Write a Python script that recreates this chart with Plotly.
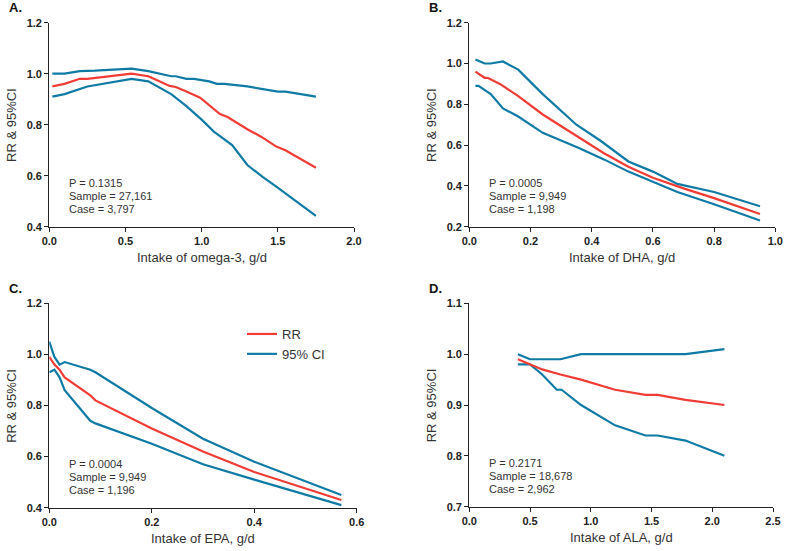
import plotly.graph_objects as go

# ---------- data ----------
# A. omega-3
a_x_up = [0.02, 0.10, 0.20, 0.30, 0.54, 0.65, 0.80, 0.83, 0.90, 0.95, 1.05, 1.10, 1.15, 1.30, 1.50, 1.55, 1.75]
a_up = [1.00, 1.00, 1.01, 1.012, 1.02, 1.01, 0.99, 0.99, 0.98, 0.98, 0.97, 0.96, 0.96, 0.95, 0.93, 0.93, 0.91]
a_x_rr = [0.02, 0.10, 0.20, 0.25, 0.54, 0.65, 0.79, 0.83, 0.90, 0.99, 1.12, 1.17, 1.30, 1.39, 1.49, 1.55, 1.75]
a_rr = [0.95, 0.96, 0.98, 0.98, 1.00, 0.99, 0.952, 0.948, 0.93, 0.906, 0.842, 0.83, 0.782, 0.753, 0.714, 0.70, 0.631]
a_x_lo = [0.02, 0.10, 0.25, 0.54, 0.65, 0.80, 0.90, 0.93, 1.00, 1.08, 1.15, 1.20, 1.30, 1.40, 1.49, 1.55, 1.75]
a_lo = [0.91, 0.92, 0.95, 0.98, 0.97, 0.92, 0.873, 0.857, 0.82, 0.773, 0.74, 0.72, 0.642, 0.595, 0.557, 0.53, 0.442]

# B. DHA
b_x_up = [0.02, 0.05, 0.07, 0.10, 0.11, 0.16, 0.24, 0.35, 0.43, 0.52, 0.60, 0.68, 0.80, 0.95]
b_up = [1.02, 1.00, 1.00, 1.01, 1.01, 0.97, 0.85, 0.70, 0.62, 0.52, 0.47, 0.41, 0.37, 0.30]
b_x_rr = [0.02, 0.05, 0.06, 0.10, 0.16, 0.24, 0.36, 0.44, 0.52, 0.60, 0.70, 0.80, 0.95]
b_rr = [0.96, 0.93, 0.93, 0.90, 0.84, 0.75, 0.636, 0.56, 0.494, 0.44, 0.388, 0.34, 0.262]
b_x_lo = [0.02, 0.03, 0.07, 0.11, 0.16, 0.24, 0.36, 0.44, 0.52, 0.60, 0.68, 0.80, 0.95]
b_lo = [0.89, 0.89, 0.85, 0.78, 0.74, 0.66, 0.585, 0.53, 0.47, 0.42, 0.37, 0.31, 0.23]

# C. EPA
c_x = [0.0, 0.01, 0.02, 0.03, 0.08, 0.09, 0.20, 0.30, 0.40, 0.57]
c_up = [1.05, 0.99, 0.96, 0.97, 0.94, 0.93, 0.79, 0.67, 0.58, 0.45]
c_rr = [0.99, 0.96, 0.94, 0.91, 0.84, 0.82, 0.71, 0.62, 0.54, 0.43]
c_lo = [0.93, 0.94, 0.91, 0.86, 0.74, 0.73, 0.65, 0.57, 0.51, 0.41]

# D. ALA
d_x_up = [0.40, 0.50, 0.75, 0.92, 1.78, 2.10]
d_up = [1.00, 0.99, 0.99, 1.00, 1.00, 1.01]
d_x_rr = [0.40, 0.50, 0.60, 0.75, 0.92, 1.20, 1.45, 1.55, 1.78, 2.10]
d_rr = [0.99, 0.98, 0.97, 0.96, 0.95, 0.93, 0.92, 0.92, 0.91, 0.90]
d_x_lo = [0.40, 0.50, 0.60, 0.72, 0.76, 0.92, 1.20, 1.45, 1.55, 1.78, 2.10]
d_lo = [0.98, 0.98, 0.96, 0.93, 0.93, 0.90, 0.86, 0.84, 0.84, 0.83, 0.80]

panel_labels = ["A.", "B.", "C.", "D."]
x_titles = ["Intake of omega-3, g/d", "Intake of DHA, g/d", "Intake of EPA, g/d", "Intake of ALA, g/d"]
y_title = "RR & 95%CI"
stats = [
    ["P = 0.1315", "Sample = 27,161", "Case = 3,797"],
    ["P = 0.0005", "Sample = 9,949", "Case = 1,198"],
    ["P = 0.0004", "Sample = 9,949", "Case = 1,196"],
    ["P = 0.2171", "Sample = 18,678", "Case = 2,962"],
]
x_ranges = [[0, 2], [0, 1], [0, 0.6], [0, 2.5]]
x_dticks = [0.5, 0.2, 0.2, 0.5]
y_ranges = [[0.4, 1.2], [0.2, 1.2], [0.4, 1.2], [0.7, 1.1]]
y_dticks = [0.2, 0.2, 0.2, 0.1]

RED = "#f03c35"
BLUE = "#0f7ba5"
W, H = 785, 551
FONT = "Liberation Sans, Arial, sans-serif"

# panel pixel boxes: (left, right, top, bottom)
boxes = [
    (49.3, 354.0, 22.7, 226.7),
    (469.3, 775.3, 22.7, 226.7),
    (49.3, 356.7, 303.3, 507.7),
    (469.3, 773.0, 303.3, 506.7),
]

fig = go.Figure()

series = [
    ((a_x_up, a_up), (a_x_rr, a_rr), (a_x_lo, a_lo)),
    ((b_x_up, b_up), (b_x_rr, b_rr), (b_x_lo, b_lo)),
    ((c_x, c_up), (c_x, c_rr), (c_x, c_lo)),
    ((d_x_up, d_up), (d_x_rr, d_rr), (d_x_lo, d_lo)),
]

layout = {}
annotations = []
for i in range(4):
    xa = "x" if i == 0 else f"x{i+1}"
    ya = "y" if i == 0 else f"y{i+1}"
    up, rr, lo = series[i]
    fig.add_trace(go.Scatter(x=up[0], y=up[1], mode="lines", line=dict(color=BLUE, width=2.2),
                             xaxis=xa, yaxis=ya, name="95% CI", legendgroup="ci",
                             showlegend=(i == 2), legendrank=2))
    fig.add_trace(go.Scatter(x=lo[0], y=lo[1], mode="lines", line=dict(color=BLUE, width=2.2),
                             xaxis=xa, yaxis=ya, name="95% CI", legendgroup="ci", showlegend=False))
    fig.add_trace(go.Scatter(x=rr[0], y=rr[1], mode="lines", line=dict(color=RED, width=2.2),
                             xaxis=xa, yaxis=ya, name="RR", legendgroup="rr",
                             showlegend=(i == 2), legendrank=1))
    l, r, t, b = boxes[i]
    ax_common = dict(showgrid=False, zeroline=False, showline=True, linecolor="#222222", linewidth=1.3,
                     ticks="outside", ticklen=4, tickwidth=1.3, tickcolor="#222222", automargin=False,
                     tickfont=dict(family=FONT, size=11, color="#222222", weight="bold"))
    xkey = "xaxis" if i == 0 else f"xaxis{i+1}"
    ykey = "yaxis" if i == 0 else f"yaxis{i+1}"
    layout[xkey] = dict(ax_common, domain=[l / W, r / W], range=x_ranges[i], dtick=x_dticks[i],
                        tick0=0, tickformat=".1f", anchor=ya)
    layout[ykey] = dict(ax_common, domain=[1 - b / H, 1 - t / H], range=y_ranges[i], dtick=y_dticks[i],
                        tick0=0, tickformat=".1f", anchor=xa)
    # panel label
    annotations.append(dict(text=f"<b>{panel_labels[i]}</b>", x=(l - 42) / W, y=1 - (t - 15) / H,
                            xref="paper", yref="paper", showarrow=False, xanchor="left", yanchor="middle",
                            font=dict(family=FONT, size=13, color="#111111")))
    # x title
    annotations.append(dict(text=x_titles[i], x=(l + r) / 2 / W, y=1 - (b + 31) / H,
                            xref="paper", yref="paper", showarrow=False, xanchor="center", yanchor="middle",
                            font=dict(family=FONT, size=13, color="#333333")))
    # y title
    annotations.append(dict(text=y_title, x=(l - 38) / W, y=1 - ((t + b) / 2) / H, textangle=-90,
                            xref="paper", yref="paper", showarrow=False, xanchor="center", yanchor="middle",
                            font=dict(family=FONT, size=13, color="#333333")))
    # stats text
    for j, s in enumerate(stats[i]):
        annotations.append(dict(text=s, x=(l + 18) / W, y=1 - (b - 44 + 13 * j) / H,
                                xref="paper", yref="paper", showarrow=False, xanchor="left", yanchor="middle",
                                font=dict(family=FONT, size=11, color="#333333")))

fig.update_layout(
    **layout,
    annotations=annotations,
    width=W, height=H,
    margin=dict(l=0, r=0, t=0, b=0, autoexpand=False),
    paper_bgcolor="white", plot_bgcolor="white",
    showlegend=True,
    legend=dict(x=242 / W, y=1 - 319 / H, xanchor="left", yanchor="top",
                bgcolor="rgba(0,0,0,0)", font=dict(family=FONT, size=13, color="#333333"),
                tracegroupgap=0, itemwidth=30),
)

fig.write_html("out.html", config={"displayModeBar": False},
               post_script="document.body.style.margin='0';document.body.style.overflow='hidden';")
